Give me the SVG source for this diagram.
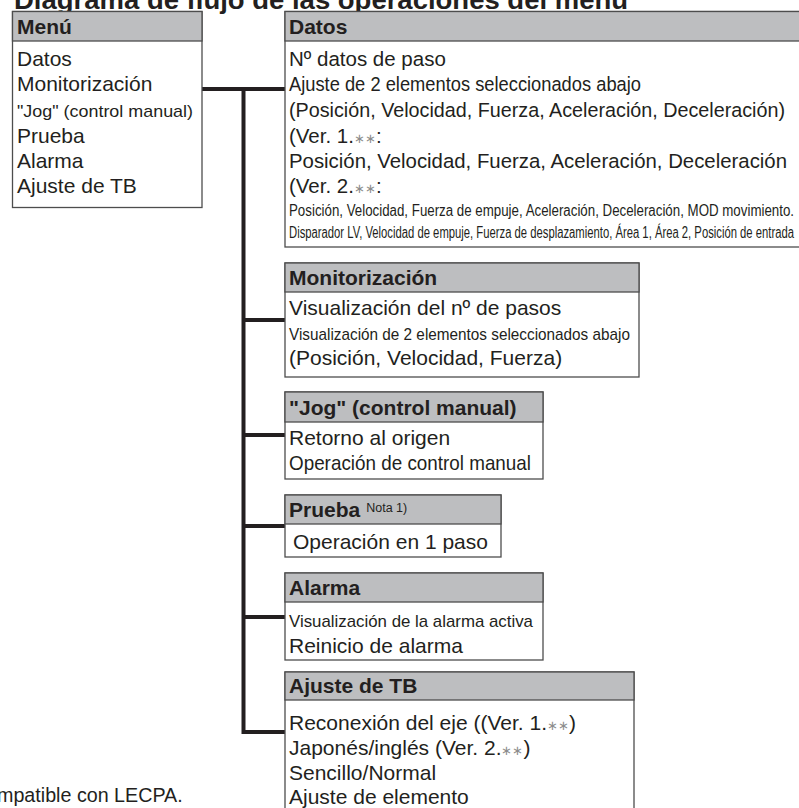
<svg xmlns="http://www.w3.org/2000/svg" width="799" height="808" viewBox="0 0 799 808">
<style>
.box{fill:#fff;stroke:#4d4d4d;stroke-width:1.3}
.hdr{fill:#bdbec0;stroke:#4d4d4d;stroke-width:1.3}
text{font-family:"Liberation Sans",Arial,Helvetica,sans-serif;fill:#231f20}
.t{font-size:21px}
.d{font-size:20.5px}
.h{font-size:21px;font-weight:bold}
.s{font-size:17px}
.ast{fill:#8c8c8c;font-size:13px}
.conn{stroke:#231f20;stroke-width:4;fill:none}
</style>
<text x="14" y="9" style="font-size:25px;font-weight:bold" textLength="614" lengthAdjust="spacingAndGlyphs">Diagrama de flujo de las operaciones del menú</text>
<g id="connectors">
<path class="conn" d="M202,89 H285"/>
<path class="conn" d="M243.5,89 V732 H285"/>
<path class="conn" d="M243.5,320 H285"/>
<path class="conn" d="M243.5,435 H285"/>
<path class="conn" d="M243.5,526 H285"/>
<path class="conn" d="M243.5,617 H285"/>
</g>
<g id="menu">
<rect class="box" x="12.5" y="11.5" width="189.5" height="196"/>
<rect class="hdr" x="12.5" y="11.5" width="189.5" height="29.5"/>
<text class="h" x="17" y="33.5">Menú</text>
<text class="t" x="17" y="65.5">Datos</text>
<text class="t" x="17" y="90.5">Monitorización</text>
<text class="s" x="17" y="116.5" textLength="176" lengthAdjust="spacingAndGlyphs">"Jog" (control manual)</text>
<text class="t" x="17" y="142.5">Prueba</text>
<text class="t" x="17" y="167.5">Alarma</text>
<text class="t" x="17" y="192.5">Ajuste de TB</text>
</g>
<g id="datos">
<rect class="box" x="285" y="11.5" width="520" height="235.5"/>
<rect class="hdr" x="285" y="11.5" width="520" height="29.5"/>
<text class="h" x="289" y="33.5">Datos</text>
<text class="d" x="289" y="65.5">Nº datos de paso</text>
<text class="d" x="289" y="90.5" textLength="352" lengthAdjust="spacingAndGlyphs">Ajuste de 2 elementos seleccionados abajo</text>
<text class="d" x="289" y="116.5" textLength="496" lengthAdjust="spacingAndGlyphs">(Posición, Velocidad, Fuerza, Aceleración, Deceleración)</text>
<text class="d" x="289" y="142.5">(Ver. 1.<tspan class="ast">∗∗</tspan>:</text>
<text class="d" x="289" y="167.5" textLength="498" lengthAdjust="spacingAndGlyphs">Posición, Velocidad, Fuerza, Aceleración, Deceleración</text>
<text class="d" x="289" y="192.5">(Ver. 2.<tspan class="ast">∗∗</tspan>:</text>
<text class="s" x="289" y="215.5" style="font-size:16px" textLength="505" lengthAdjust="spacingAndGlyphs">Posición, Velocidad, Fuerza de empuje, Aceleración, Deceleración, MOD movimiento.</text>
<text class="s" x="289" y="237.5" style="font-size:16px" textLength="505" lengthAdjust="spacingAndGlyphs">Disparador LV, Velocidad de empuje, Fuerza de desplazamiento, Área 1, Área 2, Posición de entrada</text>
</g>
<g id="monitorizacion">
<rect class="box" x="285" y="263" width="354" height="114"/>
<rect class="hdr" x="285" y="263" width="354" height="29"/>
<text class="h" x="289" y="285">Monitorización</text>
<text class="t" x="289" y="315">Visualización del nº de pasos</text>
<text class="s" x="289" y="340" textLength="341" lengthAdjust="spacingAndGlyphs">Visualización de 2 elementos seleccionados abajo</text>
<text class="t" x="289" y="365">(Posición, Velocidad, Fuerza)</text>
</g>
<g id="jog">
<rect class="box" x="285" y="392" width="258" height="87"/>
<rect class="hdr" x="285" y="392" width="258" height="30"/>
<text class="h" x="289" y="414.5">"Jog" (control manual)</text>
<text class="t" x="289" y="445">Retorno al origen</text>
<text class="t" x="289" y="470" textLength="242" lengthAdjust="spacingAndGlyphs">Operación de control manual</text>
</g>
<g id="prueba">
<rect class="box" x="285" y="495" width="216" height="62"/>
<rect class="hdr" x="285" y="495" width="216" height="29"/>
<text class="h" x="289" y="517">Prueba<tspan style="font-size:12.5px;font-weight:normal" dx="6" dy="-5">Nota 1)</tspan></text>
<text class="t" x="293" y="549">Operación en 1 paso</text>
</g>
<g id="alarma">
<rect class="box" x="285" y="573" width="258" height="87"/>
<rect class="hdr" x="285" y="573" width="258" height="29"/>
<text class="h" x="289" y="595">Alarma</text>
<text class="s" x="289" y="627" textLength="244" lengthAdjust="spacingAndGlyphs">Visualización de la alarma activa</text>
<text class="t" x="289" y="653">Reinicio de alarma</text>
</g>
<g id="ajuste-tb">
<rect class="box" x="285" y="672" width="349" height="150"/>
<rect class="hdr" x="285" y="672" width="349" height="28"/>
<text class="h" x="289" y="693">Ajuste de TB</text>
<text class="t" x="289" y="730">Reconexión del eje ((Ver. 1.<tspan class="ast">∗∗</tspan>)</text>
<text class="t" x="289" y="755">Japonés/inglés (Ver. 2.<tspan class="ast">∗∗</tspan>)</text>
<text class="t" x="289" y="780">Sencillo/Normal</text>
<text class="t" x="289" y="804">Ajuste de elemento</text>
</g>
<text x="-3" y="802" style="font-size:19.7px">mpatible con LECPA.</text>
</svg>
